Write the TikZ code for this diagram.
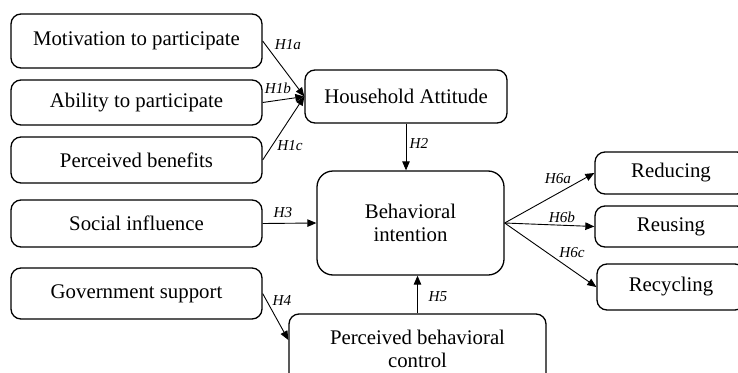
\documentclass[tikz,border=0pt]{standalone}
\usepackage{fontspec}
\setmainfont{Liberation Serif}
\usetikzlibrary{arrows.meta}
\begin{document}
\begin{tikzpicture}[x=1pt,y=-1pt,
  box/.style={draw,line width=1.3pt,rounded corners=10pt,inner sep=0pt,align=center,
    font=\fontsize{20.8}{23}\selectfont},
  arr/.style={line width=0.9pt,-{Triangle[length=9pt,width=7.5pt]}},
  hlab/.style={font=\fontsize{15.2}{16}\selectfont\itshape,inner sep=0pt}]
\useasboundingbox (0,0) rectangle (738,372);
\node[box,minimum width=251pt,minimum height=54pt] (mot) at (136.5,41) {Motivation to participate};
\node[box,minimum width=251pt,minimum height=45pt] (abi) at (136.5,102.5) {Ability to participate};
\node[box,minimum width=251pt,minimum height=46pt] (ben) at (136.5,160) {Perceived benefits};
\node[box,minimum width=251pt,minimum height=47pt] (soc) at (136.5,223.5) {Social influence};
\node[box,minimum width=251pt,minimum height=51pt] (gov) at (136.5,293.5) {Government support};
\node[box,minimum width=202pt,minimum height=53pt] (ha) at (406,96.5) {Household Attitude};
\node[box,rounded corners=16pt,minimum width=187pt,minimum height=104pt] (bi) at (410.5,223) {Behavioral\\intention};
\node[box,minimum width=257pt,minimum height=70pt] (pbc) at (417.5,349) {Perceived behavioral\\control};
\node[box,minimum width=152pt,minimum height=42pt] (red) at (671,173) {Reducing};
\node[box,minimum width=152pt,minimum height=41pt] (reu) at (671,226.5) {Reusing};
\node[box,minimum width=148pt,minimum height=46pt] (rec) at (671,287) {Recycling};
\draw[arr] (mot.east) -- (ha.west);
\draw[arr] (abi.east) -- (ha.west);
\draw[arr] (ben.east) -- (ha.west);
\draw[arr] (ha.south) -- (ha.south |- bi.north);
\draw[arr] (soc.east) -- (bi.west);
\draw[arr] (gov.east) -- ([yshift=9pt]pbc.west);
\draw[arr] (pbc.north) -- (pbc.north |- bi.south);
\draw[arr] (bi.east) -- (red.west);
\draw[arr] (bi.east) -- (reu.west);
\draw[arr] (bi.east) -- (rec.west);
\node[hlab] (l1a) at (288,45) {H1a};
\node[hlab] (l1b) at (278,88) {H1b};
\node[hlab] (l1c) at (290,146) {H1c};
\node[hlab] (l2) at (419,143) {H2};
\node[hlab] (l3) at (283,213) {H3};
\node[hlab] (l4) at (282,300) {H4};
\node[hlab] (l5) at (438,297) {H5};
\node[hlab] (l6a) at (558,179) {H6a};
\node[hlab] (l6b) at (562,217) {H6b};
\node[hlab] (l6c) at (572,253) {H6c};
\end{tikzpicture}
\end{document}
